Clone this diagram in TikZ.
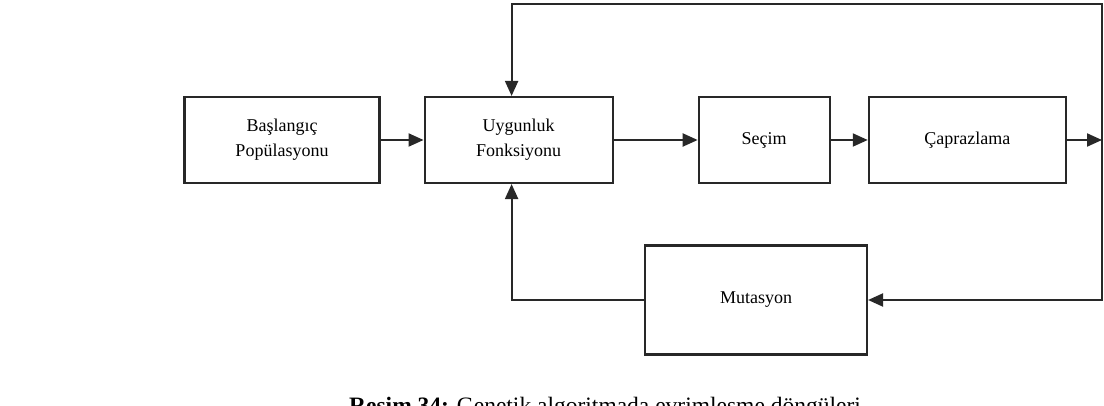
\documentclass[tikz,border=0pt]{standalone}
\usepackage{fontspec}
\setmainfont{Liberation Serif}
\usetikzlibrary{arrows.meta, positioning}
\definecolor{linegray}{RGB}{40,40,40}
\tikzset{
  base/.style={draw=linegray, line width=2.1pt, align=center,
               font=\fontsize{18}{25}\selectfont, inner sep=2pt},
  stage/.style = {base, minimum width=190pt, minimum height=86pt},
  arr/.style   = {-{Triangle[length=15pt, width=13pt]}, line width=2.1pt, color=linegray},
}

\begin{document}
\begin{tikzpicture}[x=1pt, y=-1pt, node distance=40pt]
  \useasboundingbox (0,0) rectangle (1104,406);

  % Stages
  \node[stage, minimum width=195pt] (init) at (282,140) {Başlangıç\\Popülasyonu};
  \node[stage, minimum width=188pt, right=43pt of init] (fit) {Uygunluk\\Fonksiyonu};
  \node[stage, minimum width=131pt, right=84pt of fit] (sel) {Seçim};
  \node[stage, minimum width=197pt, right=37pt of sel] (cross) {Çaprazlama};
  \node[stage, minimum width=222pt, minimum height=109pt] (mut) at (756,300) {Mutasyon};

  % Loop corner
  \coordinate (corner) at (1102,4);

  % Main flow
  \draw[arr] (init) -- (fit);
  \draw[arr] (fit) -- (sel);
  \draw[arr] (sel) -- (cross);
  \draw[arr] (cross.east) -- (cross.east -| corner);

  % Back to fitness and to mutation
  \draw[arr] (cross.east -| corner) -- (corner) -| ([xshift=-7pt]fit.north);
  \draw[arr] (cross.east -| corner) |- (mut.east);
  \draw[arr] (mut.west) -| ([xshift=-7pt]fit.south);

  % Caption
  \node[anchor=base, font=\fontsize{23.5}{28}\selectfont] (caption) at (605,413)
    {\textbf{Resim 34:} Genetik algoritmada evrimleşme döngüleri};
\end{tikzpicture}
\end{document}
